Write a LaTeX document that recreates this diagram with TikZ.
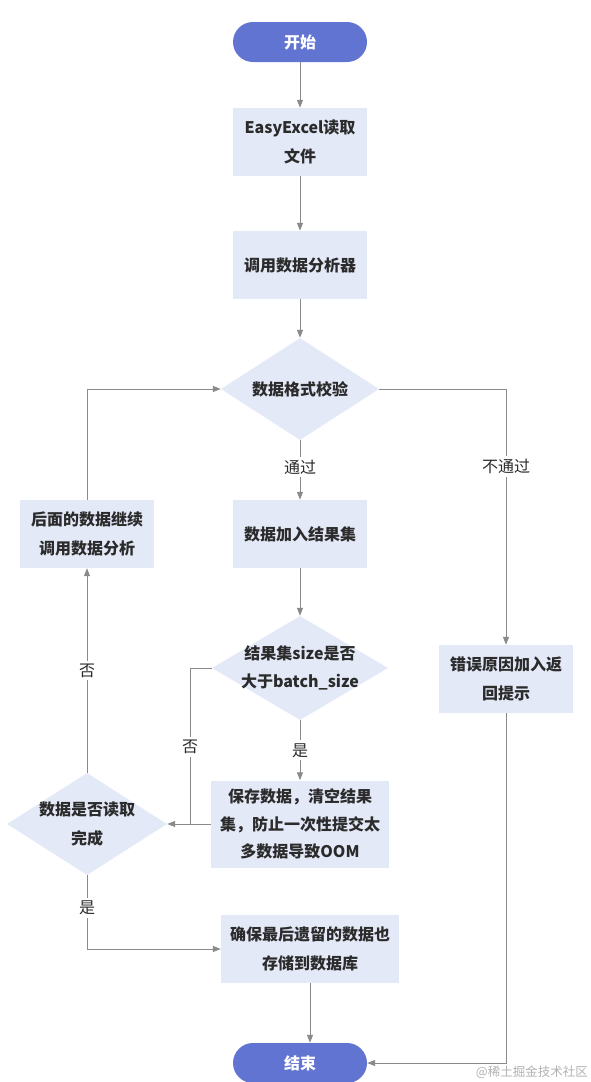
\documentclass[tikz,border=0pt]{standalone}
\usepackage{fontspec}
\setmainfont{Noto Sans CJK SC}
\usetikzlibrary{shapes.geometric,arrows.meta}
\definecolor{boxfill}{HTML}{E4E9F8}
\definecolor{pillfill}{HTML}{6274D2}
\definecolor{linegray}{HTML}{8A8A8A}
\definecolor{txt}{HTML}{2B2B2B}
\begin{document}
\begin{tikzpicture}[x=1pt,y=-1pt,
  nodefont/.style={font=\fontsize{16}{28.5}\selectfont\bfseries, text=txt},
  box/.style={rectangle, fill=boxfill, minimum width=134pt, minimum height=68pt, inner sep=0pt, align=center, nodefont},
  pill/.style={rectangle, rounded corners=20pt, fill=pillfill, minimum width=134pt, minimum height=40pt, inner sep=0pt, text=white, font=\fontsize{16}{28}\selectfont\bfseries},
  dia/.style={diamond, fill=boxfill, inner sep=0pt},
  diatext/.style={align=center, nodefont, inner sep=0pt},
  arr/.style={draw=linegray, line width=1pt, -{Triangle[length=8pt,width=6pt]}},
  ln/.style={draw=linegray, line width=1pt},
  lbl/.style={fill=white, inner sep=3pt, text=txt, font=\fontsize{16}{18}\selectfont}
]
\useasboundingbox (0,0) rectangle (590,1082);
\fill[white] (0,0) rectangle (590,1082);

\node[pill] (start) at (300,42) {开始};
\node[box] (read) at (300,142) {EasyExcel读取\\文件};
\node[box] (parser) at (300,265) {调用数据分析器};
\node[dia, minimum width=158pt, minimum height=102pt] (d1) at (300,389) {};
\node[diatext] at (d1) {数据格式校验};
\node[box] (add) at (300,534) {数据加入结果集};
\node[box] (cont) at (87,534) {后面的数据继续\\调用数据分析};
\node[box] (err) at (506,679) {错误原因加入返\\回提示};
\node[dia, minimum width=176pt, minimum height=104pt] (d2) at (300,668) {};
\node[diatext] at (d2) {结果集size是否\\大于batch\_size};
\node[box, minimum width=178pt, minimum height=87pt, font=\fontsize{16}{27.5}\selectfont\bfseries] (save) at (300,824) {保存数据，清空结果\\集，防止一次性提交太\\多数据导致OOM};
\node[dia, minimum width=160pt, minimum height=102pt] (d3) at (87,824) {};
\node[diatext] at (d3) {数据是否读取\\完成};
\node[box, minimum width=178pt] (final) at (310,949) {确保最后遗留的数据也\\存储到数据库};
\node[pill] (end) at (300,1063) {结束};
\coordinate (j) at (190,824);

\draw[arr] (start) -- (read);
\draw[arr] (read) -- (parser);
\draw[arr] (parser) -- (d1.north);
\draw[arr] (d1.south) -- node[lbl, pos=0.45]{通过} (add.north);
\draw[arr] (d1.east) -| node[lbl, pos=0.652]{不通过} (err.north);
\draw[arr] (add.south) -- (d2.north);
\draw[arr] (d2.south) -- node[lbl]{是} (save.north);
\draw[ln] (d2.west) -| node[lbl, pos=0.753]{否} (j);
\draw[arr] (save.west) -- (d3.east);
\draw[arr] (d3.north) -- node[lbl]{否} (cont.south);
\draw[arr] (cont.north) |- (d1.west);
\draw[arr] (d3.south) |- node[lbl, pos=0.223]{是} (final.west);
\draw[arr] (final.south) -- (final.south |- end.north);
\draw[arr] (err.south) |- (end.east);

\node[text=black!30, font=\fontsize{12.5}{14}\selectfont, anchor=east, inner sep=0pt] (wm) at (588,1072) {@稀土掘金技术社区};
\end{tikzpicture}
\end{document}
